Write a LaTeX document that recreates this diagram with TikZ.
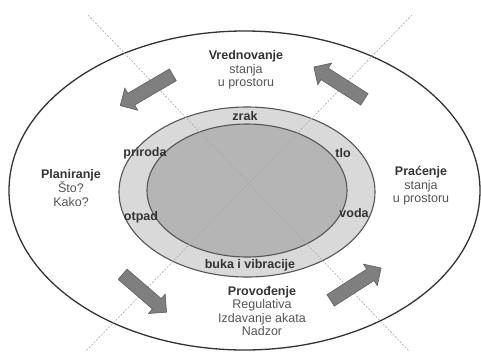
\documentclass[tikz,border=0pt]{standalone}
\usepackage{fontspec}
\setmainfont{Liberation Sans}
\usetikzlibrary{shapes.arrows}
\definecolor{ringfill}{HTML}{D9D9D9}
\definecolor{corefill}{HTML}{B5B5B5}
\definecolor{edgegray}{HTML}{555555}
\definecolor{arrowfill}{HTML}{7F7F7F}
\definecolor{arrowedge}{HTML}{5E5E5E}
\definecolor{titlecol}{HTML}{333333}
\definecolor{subcol}{HTML}{555555}
\definecolor{guidecol}{HTML}{AAAAAA}
\tikzset{
  txt/.style={font=\fontsize{12.5}{13.6}\selectfont, text=subcol, align=center, inner sep=0pt},
  lbl/.style={font=\bfseries\fontsize{12.5}{13.6}\selectfont, text=titlecol, inner sep=0pt},
  blockarr/.style={single arrow, draw=arrowedge, fill=arrowfill, line width=0.6pt,
    inner sep=6.5pt, single arrow head extend=6pt, single arrow tip angle=90,
    minimum height=#1, sloped, allow upside down},
  guide/.style={guidecol, line width=0.6pt, dash pattern=on 2pt off 1.5pt}
}
\begin{document}
\begin{tikzpicture}[x=1pt,y=-1pt]
\useasboundingbox (0,0) rectangle (481,354);
\fill[white] (0,0) rectangle (481,354);
% ellipses
\draw[titlecol, line width=1.3pt, fill=white] (244.5,190.5) ellipse [x radius=235.5, y radius=159.5];
\draw[edgegray, line width=1.1pt, fill=ringfill] (247,192) ellipse [x radius=128, y radius=85];
\draw[edgegray, line width=1.1pt, fill=corefill] (247,190.5) ellipse [x radius=100, y radius=66.5];
% guide lines
\coordinate (g1a) at (88,15);
\coordinate (g1b) at (409,351);
\coordinate (g2a) at (412,15);
\coordinate (g2b) at (86,351);
\draw[guide] (g1a) -- (g1b);
\draw[guide] (g2a) -- (g2b);
% arrows
\coordinate (a1t) at (176,73);
\coordinate (a1h) at (123,104);
\coordinate (a2t) at (367,101);
\coordinate (a2h) at (317,69);
\coordinate (a3t) at (120,272);
\coordinate (a3h) at (164,310);
\coordinate (a4t) at (328,302);
\coordinate (a4h) at (378,270);
\path (a1t) -- node[blockarr=61pt] (arrTL) {} (a1h);
\path (a2t) -- node[blockarr=60pt] (arrTR) {} (a2h);
\path (a3t) -- node[blockarr=58pt] (arrBL) {} (a3h);
\path (a4t) -- node[blockarr=60pt] (arrBR) {} (a4h);
% stage texts
\node[txt] (vred) at (246,70) {\textbf{\textcolor{titlecol}{Vrednovanje}}\\stanja\\u prostoru};
\node[txt] (plan) at (71,188) {\textbf{\textcolor{titlecol}{Planiranje}}\\Što?\\Kako?};
\node[txt] (prac) at (421,186) {\textbf{\textcolor{titlecol}{Praćenje}}\\stanja\\u prostoru};
\node[txt] (prov) at (262,311) {\textbf{\textcolor{titlecol}{Provođenje}}\\Regulativa\\Izdavanje akata\\Nadzor};
% ring labels
\node[lbl] (zrak) at (245,116) {zrak};
\node[lbl] (prir) at (145,153) {priroda};
\node[lbl] (tlo) at (343,153) {tlo};
\node[lbl] (otpad) at (141,217) {otpad};
\node[lbl] (voda) at (354,213) {voda};
\node[lbl] (buka) at (250,265) {buka i vibracije};
\end{tikzpicture}
\end{document}
